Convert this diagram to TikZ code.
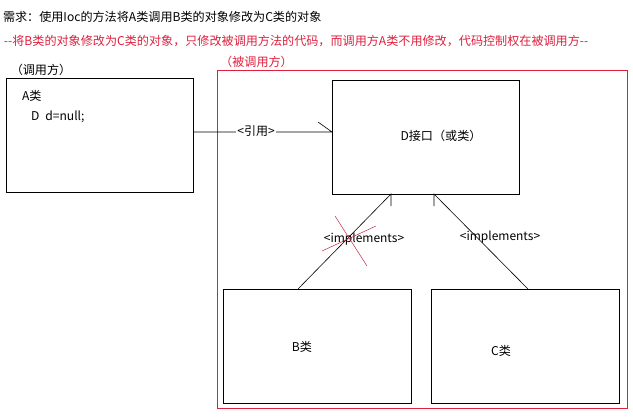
\documentclass[tikz,border=0pt]{standalone}
\usepackage{fontspec}
\setmainfont[Ligatures=NoCommon]{Noto Sans CJK SC}
\definecolor{myred}{RGB}{222,32,62}
\definecolor{xred}{RGB}{190,40,70}
\tikzset{
  box/.style={draw=black, line width=0.9pt, inner sep=0pt, outer sep=0pt},
  txt/.style={inner sep=0pt, outer sep=0pt, font=\fontsize{12.1}{14}\selectfont},
  lbl/.style={inner sep=0pt, outer sep=0pt, font=\fontsize{12}{14}\selectfont},
  conn/.style={draw=black, line width=0.6pt},
}
\begin{document}
\begin{tikzpicture}[x=1pt,y=-1pt]
\useasboundingbox[fill=white] (0,0) rectangle (633,416);
% texts on top
\node[txt, anchor=west] (title) at (3,17) {需求：使用Ioc的方法将A类调用B类的对象修改为C类的对象};
\node[txt, anchor=west, text=myred] (note) at (4,41) {{-}{-}将B类的对象修改为C类的对象，只修改被调用方法的代码，而调用方A类不用修改，代码控制权在被调用方{-}{-}};
% caller
\node[txt] (callerlbl) at (41,70) {（调用方）};
\node[box, minimum width=187pt, minimum height=114pt] (A) at (99.5,135) {};
\node[txt, anchor=west] (Aname) at (22,96) {A类};
\node[txt, anchor=west] (Afield) at (31,117) {D\hspace{6pt}d=null;};
% callee
\node[txt, text=myred] (calleelbl) at (256.5,62) {（被调用方）};
\node[draw=myred, line width=0.9pt, minimum width=410pt, minimum height=338pt, inner sep=0pt] (R) at (422,239) {};
\node[box, minimum width=187pt, minimum height=114pt] (D) at (425.5,137) {};
\node[txt] (Dtext) at (441,136) {D接口（或类）};
\node[box, minimum width=188pt, minimum height=114pt] (B) at (317,346) {};
\node[txt] (Btext) at (302,347) {B类};
\node[box, minimum width=188pt, minimum height=114pt] (C) at (525,346) {};
\node[txt] (Ctext) at (501,351) {C类};
% reference connector
\draw[conn] (A.east |- 0,132) -- (D.west |- 0,132) -- ++(-14,-10);
\node[lbl, fill=white, inner xsep=1pt] (ref) at (256,131) {<引用>};
% implements connectors
\draw[conn] (B.north -| 298,0) -- (D.south -| 391,0) -- ++(0,12);
\draw[conn] (C.north -| 528,0) -- (D.south -| 434,0) -- ++(0,12);
\node[lbl] (impB) at (364,239) {<implements>};
\node[lbl] (impC) at (500,237) {<implements>};
% red cross
\draw[xred, line width=0.5pt] (335,216) -- (367,266);
\draw[xred, line width=0.5pt] (322,251) -- (376,226);
\end{tikzpicture}
\end{document}
